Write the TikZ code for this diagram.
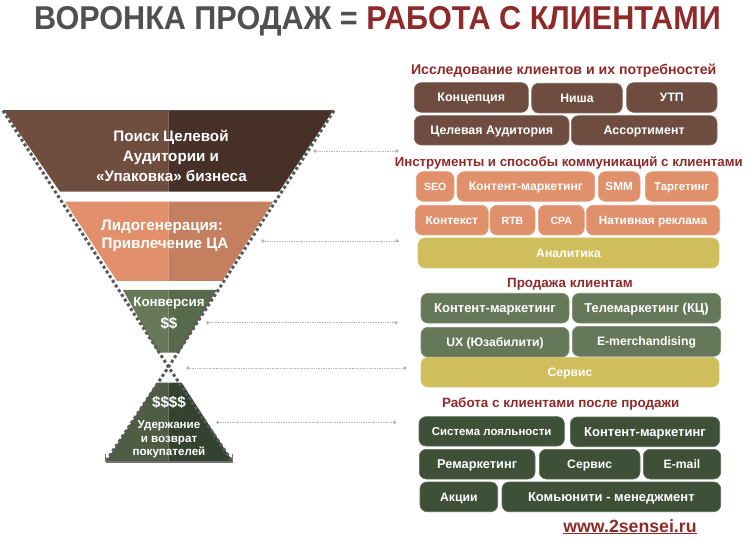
\documentclass[tikz,border=0pt]{standalone}
\usepackage{fontspec}
\usetikzlibrary{calc}
\setmainfont{Liberation Sans}
\newfontfamily\titlefont[FakeStretch=0.927]{Liberation Sans}
\definecolor{cbrown}{HTML}{6E4D40}
\definecolor{corange}{HTML}{E0906B}
\definecolor{cyellow}{HTML}{CFBE5B}
\definecolor{cgreen}{HTML}{66785A}
\definecolor{cdark}{HTML}{3F5038}
\definecolor{cred}{HTML}{8E2A2A}
\definecolor{cgray}{HTML}{505050}
\definecolor{cdash}{HTML}{5A5A5A}
\definecolor{cdot}{HTML}{B5B5B5}
\newcommand{\fs}[1]{\bfseries\fontsize{#1}{#1}\selectfont}
\tikzset{
  x=1pt,y=-1pt,
  boxbase/.style={rounded corners=7pt,inner sep=0pt,text=white,align=center,font=\fs{12.2},text height=10pt,text depth=1.2pt,line width=0.6pt},
  brownbox/.style={boxbase,fill=cbrown,draw=cbrown!85!white},
  orangebox/.style={boxbase,fill=corange,draw=corange!85!white},
  yellowbox/.style={boxbase,fill=cyellow,draw=cyellow!85!white},
  greenbox/.style={boxbase,fill=cgreen,draw=cgreen!85!white},
  darkbox/.style={boxbase,fill=cdark,draw=cdark!85!white},
  header/.style={text=cred,inner sep=0pt,text height=12pt,text depth=1pt,font=\fs{13.4}},
  flabel/.style={text=white,inner sep=0pt,text height=12pt,text depth=1.5pt,font=\fs{15.2}},
  fsmall/.style={text=white,inner sep=0pt,text height=10.5pt,text depth=0.5pt,font=\fs{11.6}},
  funneledge/.style={draw=cdash,line width=3pt,dash pattern=on 3pt off 2.6pt},
  leader/.style={draw=cdot,line width=0.7pt,densely dotted},
  enddot/.style={circle,fill=cdot,inner sep=0pt,minimum size=3.6pt},
}
\newcommand{\bx}[7]{%
  \pgfmathsetmacro{\cxa}{(#3+#5)/2}\pgfmathsetmacro{\cya}{(#4+#6)/2}%
  \pgfmathsetmacro{\wa}{#5-#3}\pgfmathsetmacro{\ha}{#6-#4}%
  \node[#2,minimum width=\wa pt,minimum height=\ha pt] (#1) at (\cxa,\cya) {#7};}
\newcommand{\leaderline}[5]{%
  \node[enddot] (#1a) at (#2,#3) {};\node[enddot] (#1b) at (#4,#5) {};
  \draw[leader] (#1a) -- (#1b);}
\begin{document}
\begin{tikzpicture}
\useasboundingbox (0,0) rectangle (750,540);
\fill[white] (0,0) rectangle (750,540);
% title
\node[inner sep=0pt,anchor=center,font=\titlefont\bfseries\fontsize{33}{36}\selectfont,text height=23pt,text depth=0pt] (title) at (377.5,18) {\textcolor{cgray}{ВОРОНКА ПРОДАЖ = }\textcolor{cred}{РАБОТА С КЛИЕНТАМИ}};
% funnel
\fill[color={rgb,255:red,112;green,78;blue,63}] (4,110.7) -- (168.5,110.7) -- (168.5,191.7) -- (60,191.7) -- cycle;
\fill[color={rgb,255:red,70;green,48;blue,40}] (168.5,110.7) -- (333,110.7) -- (279,191.7) -- (168.5,191.7) -- cycle;
\fill[color={rgb,255:red,226;green,144;blue,107}] (65,201.7) -- (168.5,201.7) -- (168.5,281) -- (117,281) -- cycle;
\fill[color={rgb,255:red,196;green,127;blue,94}] (168.5,201.7) -- (273,201.7) -- (222,281) -- (168.5,281) -- cycle;
\fill[color={rgb,255:red,104;green,121;blue,90}] (123,290) -- (168.5,290) -- (168.5,352.7) -- (158,352.7) -- cycle;
\fill[color={rgb,255:red,88;green,106;blue,76}] (168.5,290) -- (216.7,290) -- (179,352.7) -- (168.5,352.7) -- cycle;
\fill[color={rgb,255:red,78;green,92;blue,68}] (157,382.7) -- (168.5,382.7) -- (168.5,461.7) -- (106,461.7) -- cycle;
\fill[color={rgb,255:red,52;green,66;blue,48}] (168.5,382.7) -- (181.7,382.7) -- (232.7,461.7) -- (168.5,461.7) -- cycle;
\coordinate (tl) at (3,110.7);\coordinate (tr) at (334,110.7);\coordinate (neck) at (168.5,367);
\coordinate (bl) at (105.5,462);\coordinate (br) at (232.5,462);
\draw[funneledge] (tl) -- (neck) -- (br);
\draw[funneledge] (tr) -- (neck) -- (bl);
\draw[cgray,line width=0.8pt] (tl) -- (tr);
\draw[cgray!80,line width=1.4pt] (bl) -- (br);
\draw[cgray!80,line width=1pt] (bl) -- ++(0,-8);
\draw[cgray!80,line width=1pt] (br) -- ++(0,-8);
% funnel labels
\node[flabel] (f1a) at (171,136) {Поиск Целевой};
\node[flabel] (f1b) at (171,156) {Аудитории и};
\node[flabel] (f1c) at (171.5,176) {«Упаковка» бизнеса};
\node[flabel] (f2a) at (162,225) {Лидогенерация:};
\node[flabel] (f2b) at (165,243.5) {Привлечение ЦА};
\node[fsmall,font=\fs{13.3}] (f3a) at (169,301.7) {Конверсия};
\node[flabel] (f3b) at (169,323) {\$\$};
\node[flabel] (f4a) at (169,402.7) {\$\$\$\$};
\node[fsmall] (f4b) at (169,423.3) {Удержание};
\node[fsmall] (f4c) at (169,437) {и возврат};
\node[fsmall] (f4d) at (169,450) {покупателей};
% leaders
\leaderline{l1}{315}{151}{397}{151}
\leaderline{l2}{263}{241}{397}{241}
\leaderline{l3}{207.7}{322.7}{396}{322.7}
\leaderline{l4}{188}{368}{405}{368}
\leaderline{l5}{217.7}{422.3}{394.7}{422.3}
% headers
\node[header,font=\fs{14.15}] (h1) at (563.7,69.3) {Исследование клиентов и их потребностей};
\node[header,font=\fs{13.25}] (h2) at (568.8,160.7) {Инструменты и способы коммуникаций с клиентами};
\node[header] (h3) at (570,281.7) {Продажа клиентам};
\node[header] (h4) at (560.7,402.3) {Работа с клиентами после продажи};
% boxes 1
\bx{a1}{brownbox,font=\fs{12.5}}{414.3}{82.7}{528.3}{112.3}{Концепция}
\bx{a2}{brownbox}{531.7}{83.3}{622.3}{113}{Ниша}
\bx{a3}{brownbox}{626.7}{82.7}{717}{112.3}{УТП}
\bx{a4}{brownbox,font=\fs{12.4}}{414.3}{115.7}{569}{145}{Целевая Аудитория}
\bx{a5}{brownbox,font=\fs{12.4}}{571.3}{115.7}{717}{145}{Ассортимент}
% boxes 2
\bx{b1}{orangebox,font=\fs{10.5}}{416.3}{171.7}{454}{201.3}{SEO}
\bx{b2}{orangebox}{457}{171.7}{594.7}{201.3}{Контент-маркетинг}
\bx{b3}{orangebox,font=\fs{11.8}}{598.3}{171.7}{640}{201.3}{SMM}
\bx{b4}{orangebox,font=\fs{11.4}}{645.3}{171.7}{718}{201.3}{Таргетинг}
\bx{b5}{orangebox,font=\fs{11.9}}{415.3}{205.3}{488.3}{235}{Контекст}
\bx{b6}{orangebox,font=\fs{10.5}}{490}{205.3}{535}{235}{RTB}
\bx{b7}{orangebox,font=\fs{10.5}}{538.3}{205.3}{584.3}{235}{CPA}
\bx{b8}{orangebox,font=\fs{11.8}}{586.3}{205.3}{719.7}{235}{Нативная реклама}
\bx{b9}{yellowbox}{418}{238}{719}{268}{Аналитика}
% boxes 3
\bx{c1}{greenbox,font=\fs{13}}{421}{293.3}{569}{323}{Контент-маркетинг}
\bx{c2}{greenbox,font=\fs{12.9}}{572.3}{293.3}{720.7}{323}{Телемаркетинг (КЦ)}
\bx{c3}{greenbox}{421}{327.3}{569}{357}{UX (Юзабилити)}
\bx{c4}{greenbox}{572.3}{326.3}{720.7}{356.3}{E-merchandising}
\bx{c5}{yellowbox}{421}{357.3}{719}{387}{Сервис}
% boxes 4
\bx{d1}{darkbox,font=\fs{11.5}}{419}{416.7}{564.3}{446}{Система лояльности}
\bx{d2}{darkbox,font=\fs{13}}{570.3}{417}{719.7}{446.7}{Контент-маркетинг}
\bx{d3}{darkbox,font=\fs{12.8}}{419.3}{449.3}{535}{479}{Ремаркетинг}
\bx{d4}{darkbox}{539.3}{449.3}{640}{479}{Сервис}
\bx{d5}{darkbox}{643.3}{449.3}{720.7}{479}{E-mail}
\bx{d6}{darkbox}{420}{482}{497.7}{511.7}{Акции}
\bx{d7}{darkbox,font=\fs{13}}{502}{482}{720.7}{511.7}{Комьюнити - менеджмент}
% url
\node[inner sep=0pt,text=cred,font=\fs{17.7}] (url) at (630,525.7) {www.2sensei.ru};
\draw[cred,line width=0.8pt] ($(url.south west)+(0,0.5)$) -- ($(url.south east)+(0,0.5)$);
\end{tikzpicture}
\end{document}
